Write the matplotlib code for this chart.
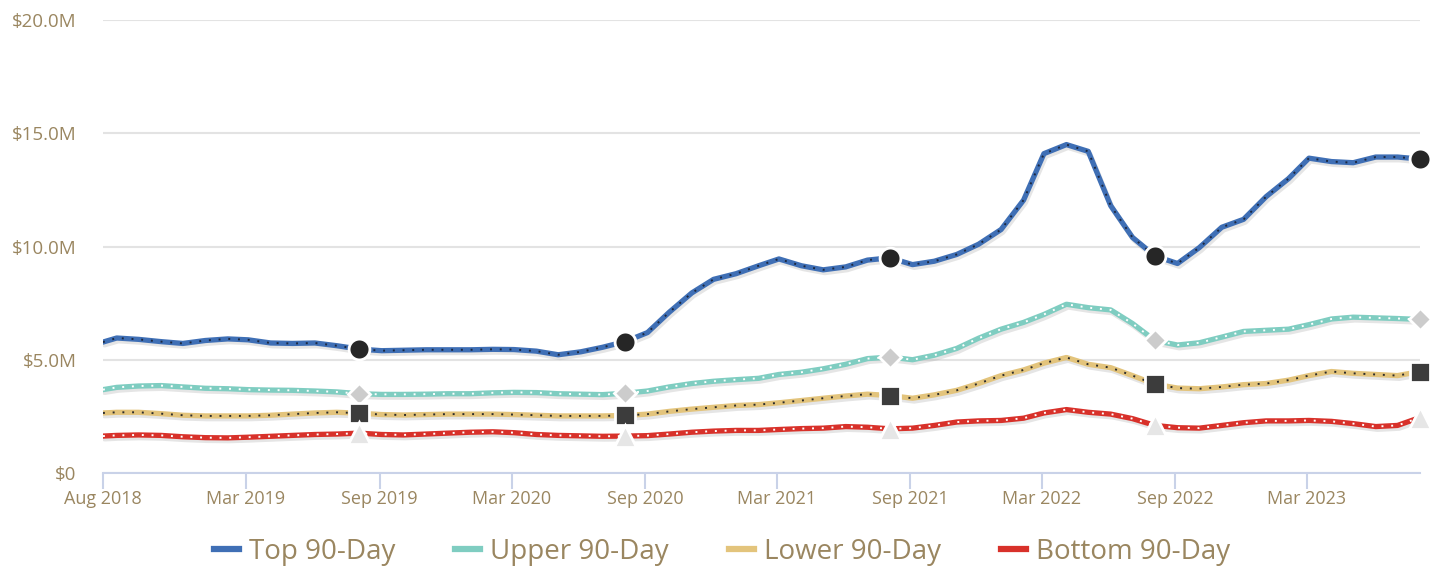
import pandas as pd
import matplotlib.pyplot as plt
import matplotlib.patheffects as pe
from matplotlib.lines import Line2D

# monthly readings, $M
top = [5.78, 5.96, 5.90, 5.80, 5.72, 5.85, 5.92, 5.88, 5.74, 5.72, 5.74, 5.62,
       5.47, 5.40, 5.42, 5.44, 5.44, 5.44, 5.46, 5.45, 5.38, 5.22, 5.35, 5.55,
       5.80, 6.20, 7.10, 7.95, 8.55, 8.80, 9.15, 9.45, 9.15, 8.97, 9.10, 9.40,
       9.50, 9.20, 9.35, 9.65, 10.10, 10.75, 12.05, 14.10, 14.50, 14.20, 11.80, 10.40,
       9.58, 9.25, 9.95, 10.85, 11.20, 12.20, 13.00, 13.90, 13.75, 13.70, 13.95, 13.95,
       13.86]
upper = [3.68, 3.78, 3.84, 3.86, 3.80, 3.74, 3.72, 3.68, 3.66, 3.65, 3.62, 3.58,
         3.50, 3.47, 3.47, 3.48, 3.50, 3.50, 3.54, 3.56, 3.55, 3.50, 3.48, 3.46,
         3.52, 3.62, 3.80, 3.95, 4.05, 4.12, 4.18, 4.35, 4.45, 4.60, 4.80, 5.05,
         5.12, 5.00, 5.20, 5.50, 5.95, 6.35, 6.65, 7.00, 7.45, 7.30, 7.20, 6.60,
         5.85, 5.65, 5.75, 6.00, 6.25, 6.30, 6.35, 6.55, 6.80, 6.88, 6.85, 6.82,
         6.78]
lower = [2.65, 2.68, 2.68, 2.62, 2.55, 2.52, 2.52, 2.52, 2.55, 2.60, 2.65, 2.68,
         2.64, 2.58, 2.56, 2.58, 2.60, 2.60, 2.60, 2.58, 2.55, 2.52, 2.52, 2.52,
         2.54, 2.60, 2.72, 2.82, 2.90, 2.98, 3.02, 3.10, 3.20, 3.30, 3.40, 3.48,
         3.42, 3.30, 3.45, 3.65, 3.95, 4.30, 4.55, 4.85, 5.10, 4.80, 4.65, 4.30,
         3.92, 3.75, 3.72, 3.80, 3.90, 3.95, 4.10, 4.30, 4.48, 4.40, 4.35, 4.30,
         4.48]
bottom = [1.63, 1.66, 1.68, 1.66, 1.60, 1.56, 1.55, 1.58, 1.62, 1.66, 1.70, 1.72,
          1.76, 1.70, 1.68, 1.72, 1.76, 1.80, 1.82, 1.78, 1.70, 1.66, 1.64, 1.62,
          1.63, 1.65, 1.72, 1.80, 1.85, 1.88, 1.88, 1.92, 1.96, 1.98, 2.05, 2.02,
          1.95, 1.98, 2.10, 2.25, 2.30, 2.32, 2.42, 2.65, 2.80, 2.68, 2.60, 2.40,
          2.10, 2.00, 1.98, 2.10, 2.22, 2.30, 2.30, 2.32, 2.28, 2.18, 2.05, 2.10,
          2.45]

dates = [pd.Timestamp('2018-08-16')] + list(
    pd.date_range('2018-09-04', periods=60, freq=pd.DateOffset(months=1)))
marker_idx = [12, 24, 36, 48, 60]

tick_dates = pd.to_datetime(['2018-08-16', '2019-03-01', '2019-09-01', '2020-03-01',
                             '2020-09-01', '2021-03-01', '2021-09-01', '2022-03-01',
                             '2022-09-01', '2023-03-01'])
tick_labels = ['Aug 2018', 'Mar 2019', 'Sep 2019', 'Mar 2020', 'Sep 2020',
               'Mar 2021', 'Sep 2021', 'Mar 2022', 'Sep 2022', 'Mar 2023']
y_ticks = [0, 5, 10, 15, 20]
y_labels = ['$0', '$5.0M', '$10.0M', '$15.0M', '$20.0M']

series = [
    ('Top 90-Day', top, '#3f6fb5', '#1c2840', 'o', '#262626', 15),
    ('Upper 90-Day', upper, '#7fcdc1', '#ffffff', 'D', '#cccccc', 11),
    ('Lower 90-Day', lower, '#e3c47c', '#2b2b2b', 's', '#3c3c3c', 15),
    ('Bottom 90-Day', bottom, '#d8312a', '#ffffff', '^', '#e6e6e6', 16),
]

text_col = '#9a8660'
plt.rcParams['font.family'] = ['Open Sans', 'DejaVu Sans']

fig = plt.figure(figsize=(14.44, 5.67), dpi=100)
ax = fig.add_axes([0.0713, 0.1658, 0.9121, 0.7989])

handles = []
for name, vals, col, dotcol, mk, mkcol, ms in series:
    ax.plot(dates, vals, color=col, lw=3.8, solid_capstyle='round', zorder=3,
            path_effects=[pe.SimpleLineShadow(offset=(1.2, -2), shadow_color='#aaaaaa',
                                              alpha=0.3), pe.Normal()])
    ax.plot(dates, vals, color=dotcol, lw=1.4, ls=(0, (1, 4)), zorder=4)
    mx = [dates[i] for i in marker_idx]
    my = [vals[i] for i in marker_idx]
    ax.plot(mx, my, ls='none', marker=mk, ms=ms, color=mkcol, mec='white', mew=2,
            zorder=6, clip_on=False)
    handles.append(Line2D([], [], color=col, lw=4.5))

ax.set_xlim(dates[0], dates[-1])
ax.set_ylim(0, 20)
ax.set_yticks(y_ticks)
ax.set_yticklabels(y_labels)
ax.set_xticks(tick_dates)
ax.set_xticklabels(tick_labels)
ax.grid(axis='y', color='#e3e3e3', lw=1.5)
ax.set_axisbelow(True)
for s in ['top', 'right', 'left']:
    ax.spines[s].set_visible(False)
ax.spines['bottom'].set_color('#c9d2e8')
ax.spines['bottom'].set_linewidth(1.5)
ax.tick_params(axis='y', length=0, labelsize=13.5, labelcolor=text_col, pad=19)
ax.tick_params(axis='x', length=11.5, width=1.5, color='#c9d2e8', labelsize=13,
               labelcolor=text_col, pad=1)
for lab in ax.get_yticklabels():
    lab.set_verticalalignment('center_baseline')

leg = fig.legend(handles, [s[0] for s in series], loc='center', ncol=4,
                 bbox_to_anchor=(0.5, 0.027), frameon=False, fontsize=20,
                 handlelength=0.9, handletextpad=0.36, columnspacing=2.15)
for t in leg.get_texts():
    t.set_color(text_col)

fig.savefig('out.png', dpi=100)
